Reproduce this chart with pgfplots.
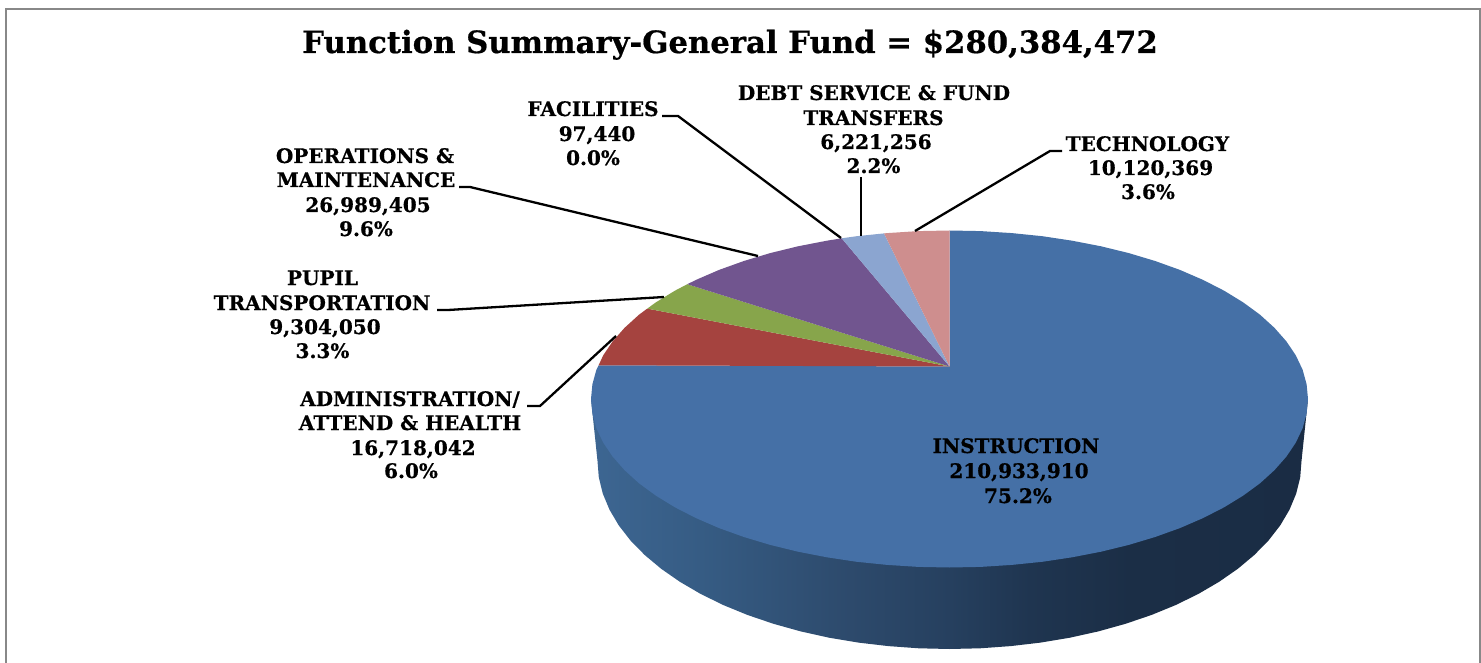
\documentclass[border=0pt]{standalone}
\usepackage{pgfplots}
\pgfplotsset{compat=1.18}
\usepackage{fontspec}
\setmainfont{DejaVu Serif}[BoldFeatures={FakeBold=0.6}]
\definecolor{cBlue}{HTML}{4570A6}
\definecolor{cRed}{HTML}{A5433F}
\definecolor{cGreen}{HTML}{87A54B}
\definecolor{cPurple}{HTML}{71558F}
\definecolor{cPeri}{HTML}{8BA5D0}
\definecolor{cPink}{HTML}{CE8E8E}
\definecolor{sA}{HTML}{3D6692}
\definecolor{sB}{HTML}{365C84}
\definecolor{sC}{HTML}{2D4A6C}
\definecolor{sD}{HTML}{26405F}
\definecolor{sE}{HTML}{1F3550}
\definecolor{sF}{HTML}{1B2E46}
\definecolor{sG}{HTML}{1A2C44}
\pgfdeclarehorizontalshading{sideblue}{100bp}{
 color(0bp)=(sA);
 color(25bp)=(sA);
 color(32.6bp)=(sB);
 color(43bp)=(sC);
 color(50bp)=(sD);
 color(55.6bp)=(sE);
 color(62.6bp)=(sF);
 color(75bp)=(sG);
 color(100bp)=(sG)}
\newcommand{\lab}[3]{\node[anchor=base,inner sep=0pt,font=\bfseries\fontsize{20}{20}\selectfont] at (axis cs:#1,#2) {#3};}
\begin{document}
\begin{tikzpicture}
\begin{axis}[width=1481pt,height=663pt,scale only axis,xmin=0,xmax=1481,ymin=0,ymax=663,y dir=reverse,hide axis]
% page
\addplot[draw=none,fill=white] coordinates {(0,0)(1481,0)(1481,663)(0,663)} --cycle;
% frame
\addplot[draw={rgb,255:red,136;green,136;blue,136},line width=2.4pt] coordinates {(6,663)(6,9)(1480,9)(1480,663)};
% side of the pie
\addplot[draw=none,shading=sideblue] coordinates {(1308,399)(1301.5,461)(1300.2,477.4)(1296.2,493.6)(1289.5,509.7)(1280.3,525.3)(1268.5,540.5)(1254.3,555)(1237.8,568.8)(1219.1,581.8)(1198.4,593.9)(1175.8,605)(1151.4,615)(1125.5,623.8)(1098.3,631.4)(1069.9,637.7)(1040.6,642.6)(1010.6,646.1)(980.2,648.3)(949.5,649)(918.8,648.3)(888.4,646.1)(858.4,642.6)(829.1,637.7)(800.7,631.4)(773.5,623.8)(747.6,615)(723.2,605)(700.6,593.9)(679.9,581.8)(661.2,568.8)(644.7,555)(630.5,540.5)(618.7,525.3)(609.5,509.7)(602.8,493.6)(598.8,477.4)(597.5,461)(591,399)} --cycle;
% slices
\addplot[draw=none,fill=cBlue] coordinates {(949.5,366.5)(949.5,230.5)(980.7,231.1)(1011.8,233.1)(1042.3,236.2)(1072.1,240.7)(1101,246.3)(1128.8,253.1)(1155.1,261)(1179.9,269.9)(1203,279.9)(1224.1,290.7)(1243.2,302.4)(1260,314.7)(1274.4,327.8)(1286.4,341.4)(1295.8,355.4)(1302.6,369.7)(1306.6,384.3)(1308,399)(1306.6,413.7)(1302.6,428.3)(1295.8,442.6)(1286.4,456.6)(1274.4,470.2)(1260,483.3)(1243.2,495.6)(1224.1,507.3)(1203,518.1)(1179.9,528.1)(1155.1,537)(1128.8,544.9)(1101,551.7)(1072.1,557.3)(1042.3,561.8)(1011.8,564.9)(980.7,566.9)(949.5,567.5)(918.3,566.9)(887.2,564.9)(856.7,561.8)(826.9,557.3)(798,551.7)(770.2,544.9)(743.9,537)(719.1,528.1)(696,518.1)(674.9,507.3)(655.8,495.6)(639,483.3)(624.6,470.2)(612.6,456.6)(603.2,442.6)(596.4,428.3)(592.4,413.7)(591,399)(592.4,384.3)(596.4,369.7)(598.6,365.3)} --cycle;
\addplot[draw=none,fill=cRed] coordinates {(949.5,366.5)(598.6,365.3)(603.2,355.4)(612.6,341.4)(624.6,327.8)(639,314.7)(647.3,308.6)} --cycle;
\addplot[draw=none,fill=cGreen] coordinates {(949.5,366.5)(647.3,308.6)(655.8,302.4)(674.9,290.7)(687.3,284.2)} --cycle;
\addplot[draw=none,fill=cPurple] coordinates {(949.5,366.5)(687.3,284.2)(696,279.9)(719.1,269.9)(743.9,261)(770.2,253.1)(798,246.3)(826.9,240.7)(841.7,238.3)} --cycle;
\addplot[draw=none,fill=cPeri] coordinates {(949.5,366.5)(841.7,238.3)(856.7,236.2)(884,233.4)} --cycle;
\addplot[draw=none,fill=cPink] coordinates {(949.5,366.5)(884,233.4)(887.2,233.1)(918.3,231.1)(949.5,230.5)} --cycle;
% leader lines
\addplot[black,line width=2.3pt] coordinates {(662,116)(678,116)(841,238)};
\addplot[black,line width=2.7pt] coordinates {(861,177)(861,236)};
\addplot[black,line width=2.3pt] coordinates {(1062,151)(1050,151)(915,231)};
\addplot[black,line width=2.3pt] coordinates {(459,187)(470,187)(758,256)};
\addplot[black,line width=2.3pt] coordinates {(437,310)(448,310)(664,297)};
\addplot[black,line width=2.3pt] coordinates {(527,406)(540,406)(616,336)};
% text
\node[anchor=base,inner sep=0pt,font=\bfseries\fontsize{30.7}{30.7}\selectfont] at (axis cs:730,53) {Function Summary-General Fund = \$280,384,472};
\lab{874}{100}{DEBT SERVICE \& FUND}
\lab{873.5}{125}{TRANSFERS}
\lab{876}{149}{6,221,256}
\lab{873.5}{173}{2.2\%}
\lab{1147.5}{151}{TECHNOLOGY}
\lab{1150.5}{175}{10,120,369}
\lab{1148}{199}{3.6\%}
\lab{593}{116}{FACILITIES}
\lab{597}{141}{97,440}
\lab{593}{165}{0.0\%}
\lab{365}{163}{OPERATIONS \&}
\lab{366}{187}{MAINTENANCE}
\lab{368}{212}{26,989,405}
\lab{366}{236}{9.6\%}
\lab{322.5}{285}{PUPIL}
\lab{322}{310}{TRANSPORTATION}
\lab{325}{334}{9,304,050}
\lab{322.5}{358}{3.3\%}
\lab{410}{406}{ADMINISTRATION/}
\lab{410}{430}{ATTEND \& HEALTH}
\lab{413}{455}{16,718,042}
\lab{411}{478}{6.0\%}
\lab{1016}{453}{INSTRUCTION}
\lab{1019}{478}{210,933,910}
\lab{1018}{503}{75.2\%}
\end{axis}
\end{tikzpicture}
\end{document}
